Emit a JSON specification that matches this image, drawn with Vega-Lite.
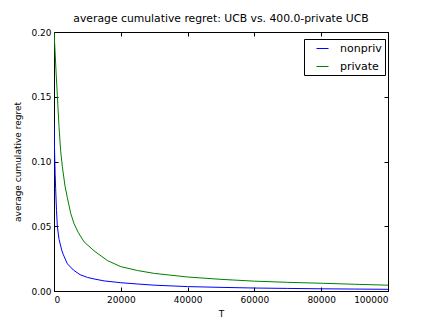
{
  "$schema": "https://vega.github.io/schema/vega-lite/v6.json",
  "width": 334,
  "height": 259,
  "autosize": {"type": "none"},
  "padding": {"left": 54, "top": 32, "right": 44, "bottom": 33},
  "background": "white",
  "title": {"text": "average cumulative regret: UCB vs. 400.0-private UCB", "font": "DejaVu Sans", "fontSize": 10.8, "fontWeight": "normal", "color": "black", "offset": 4},
  "config": {
    "view": {"stroke": "black", "strokeWidth": 1},
    "axis": {"grid": false, "domainColor": "black", "tickColor": "black", "labelColor": "black", "titleColor": "black", "labelFont": "DejaVu Sans", "titleFont": "DejaVu Sans", "labelFontSize": 9, "titleFontSize": 9, "titleFontWeight": "normal", "tickSize": -4}
  },
  "data": {"values": [
    {"T": 0, "regret": 0.13, "series": "nonpriv"},
    {"T": 100, "regret": 0.116, "series": "nonpriv"},
    {"T": 200, "regret": 0.105, "series": "nonpriv"},
    {"T": 350, "regret": 0.09, "series": "nonpriv"},
    {"T": 500, "regret": 0.079, "series": "nonpriv"},
    {"T": 750, "regret": 0.062, "series": "nonpriv"},
    {"T": 1000, "regret": 0.05, "series": "nonpriv"},
    {"T": 1500, "regret": 0.04, "series": "nonpriv"},
    {"T": 2300, "regret": 0.0317, "series": "nonpriv"},
    {"T": 2800, "regret": 0.028, "series": "nonpriv"},
    {"T": 4000, "regret": 0.021, "series": "nonpriv"},
    {"T": 5800, "regret": 0.0162, "series": "nonpriv"},
    {"T": 7800, "regret": 0.0126, "series": "nonpriv"},
    {"T": 10000, "regret": 0.0105, "series": "nonpriv"},
    {"T": 12000, "regret": 0.0093, "series": "nonpriv"},
    {"T": 15000, "regret": 0.0078, "series": "nonpriv"},
    {"T": 20000, "regret": 0.0064, "series": "nonpriv"},
    {"T": 25000, "regret": 0.0054, "series": "nonpriv"},
    {"T": 30000, "regret": 0.0045, "series": "nonpriv"},
    {"T": 40000, "regret": 0.0034, "series": "nonpriv"},
    {"T": 50000, "regret": 0.0028, "series": "nonpriv"},
    {"T": 60000, "regret": 0.0023, "series": "nonpriv"},
    {"T": 70000, "regret": 0.002, "series": "nonpriv"},
    {"T": 80000, "regret": 0.0017, "series": "nonpriv"},
    {"T": 90000, "regret": 0.0015, "series": "nonpriv"},
    {"T": 100000, "regret": 0.0013, "series": "nonpriv"},
    {"T": 0, "regret": 0.2, "series": "private"},
    {"T": 300, "regret": 0.186, "series": "private"},
    {"T": 600, "regret": 0.17, "series": "private"},
    {"T": 1000, "regret": 0.151, "series": "private"},
    {"T": 1500, "regret": 0.127, "series": "private"},
    {"T": 2000, "regret": 0.108, "series": "private"},
    {"T": 2500, "regret": 0.096, "series": "private"},
    {"T": 3300, "regret": 0.081, "series": "private"},
    {"T": 4000, "regret": 0.072, "series": "private"},
    {"T": 5000, "regret": 0.06, "series": "private"},
    {"T": 6000, "regret": 0.052, "series": "private"},
    {"T": 7300, "regret": 0.045, "series": "private"},
    {"T": 9000, "regret": 0.038, "series": "private"},
    {"T": 12000, "regret": 0.031, "series": "private"},
    {"T": 16000, "regret": 0.0235, "series": "private"},
    {"T": 20000, "regret": 0.0188, "series": "private"},
    {"T": 25000, "regret": 0.0158, "series": "private"},
    {"T": 30000, "regret": 0.0136, "series": "private"},
    {"T": 40000, "regret": 0.0108, "series": "private"},
    {"T": 50000, "regret": 0.009, "series": "private"},
    {"T": 60000, "regret": 0.0076, "series": "private"},
    {"T": 70000, "regret": 0.0067, "series": "private"},
    {"T": 80000, "regret": 0.006, "series": "private"},
    {"T": 90000, "regret": 0.0052, "series": "private"},
    {"T": 100000, "regret": 0.0045, "series": "private"}
  ]},
  "layer": [
    {
      "mark": {"type": "line", "strokeWidth": 1, "clip": true},
      "encoding": {
        "x": {"field": "T", "type": "quantitative", "scale": {"domain": [0, 100000], "nice": false},
              "axis": {"values": [0, 20000, 40000, 60000, 80000, 100000], "format": "d", "title": "T", "labelPadding": 8, "titlePadding": 5}},
        "y": {"field": "regret", "type": "quantitative", "scale": {"domain": [0, 0.2], "nice": false},
              "axis": {"values": [0, 0.05, 0.1, 0.15, 0.2], "format": ".2f", "title": "average cumulative regret", "labelPadding": 7, "titlePadding": 8}},
        "color": {"field": "series", "type": "nominal",
                  "scale": {"domain": ["nonpriv", "private"], "range": ["#0000ff", "#008000"]},
                  "legend": {"title": null, "orient": "none", "legendX": 250, "legendY": 7, "symbolType": "stroke", "symbolSize": 144, "symbolStrokeWidth": 1, "symbolOffset": 9, "labelFont": "DejaVu Sans", "labelFontSize": 11, "labelColor": "black", "strokeColor": "black", "fillColor": "white", "padding": 3, "rowPadding": 6, "labelOffset": 11}}
      }
    },
    {
      "mark": {"type": "line", "opacity": 0},
      "encoding": {
        "x": {"field": "T", "type": "quantitative", "scale": {"domain": [0, 100000], "nice": false},
              "axis": {"orient": "top", "values": [0, 20000, 40000, 60000, 80000, 100000], "labels": false, "title": null}},
        "y": {"field": "regret", "type": "quantitative", "scale": {"domain": [0, 0.2], "nice": false},
              "axis": {"orient": "right", "values": [0, 0.05, 0.1, 0.15, 0.2], "labels": false, "title": null}}
      }
    }
  ],
  "resolve": {"scale": {"x": "independent", "y": "independent"}}
}
